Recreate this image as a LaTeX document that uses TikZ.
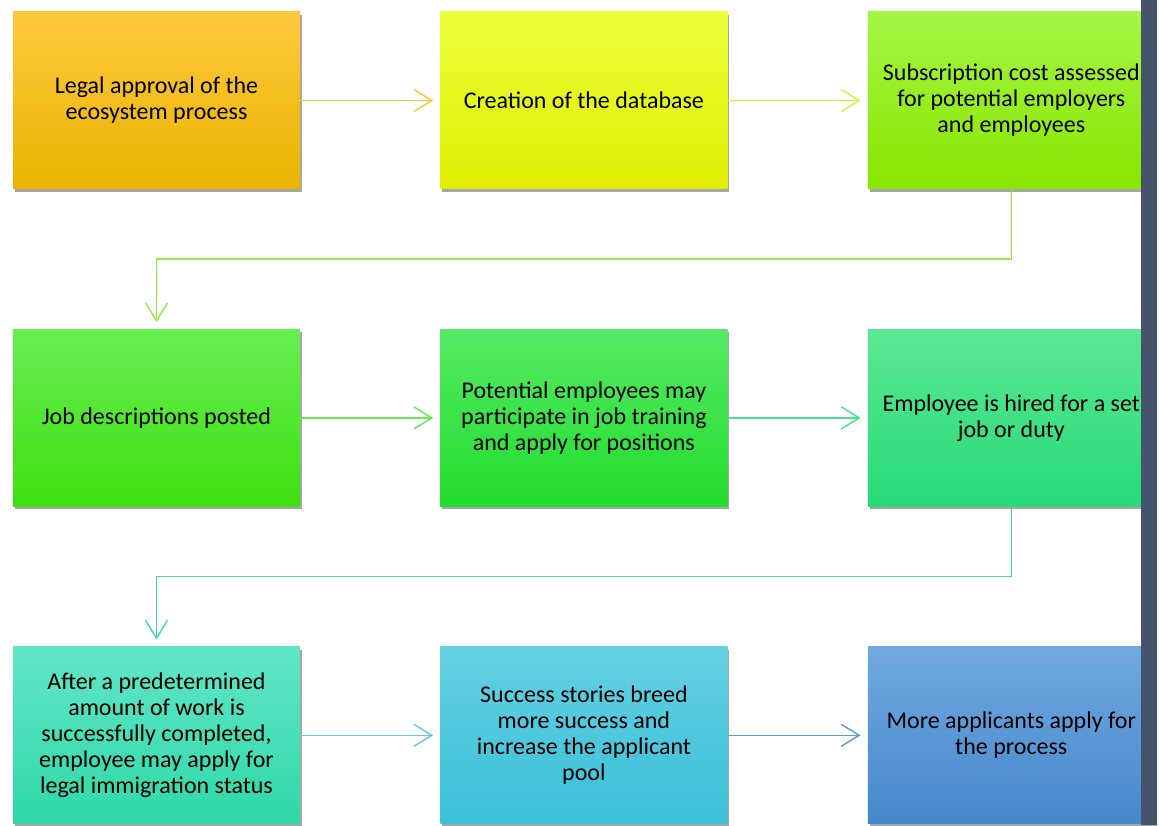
\documentclass[tikz,border=0pt]{standalone}
\usepackage{fontspec}
\setmainfont{Carlito}
\usetikzlibrary{arrows.meta,positioning,shadows}
\definecolor{GoldTop}{HTML}{FFC93E}
\definecolor{GoldBot}{HTML}{E8B400}
\definecolor{LemonTop}{HTML}{ECFF3A}
\definecolor{LemonBot}{HTML}{E0EE00}
\definecolor{LimeTop}{HTML}{A6F545}
\definecolor{LimeBot}{HTML}{88E600}
\definecolor{GrassTop}{HTML}{66EE52}
\definecolor{GrassBot}{HTML}{3EE010}
\definecolor{LeafTop}{HTML}{55EA66}
\definecolor{LeafBot}{HTML}{22DC2C}
\definecolor{MintTop}{HTML}{5CE892}
\definecolor{MintBot}{HTML}{26DA78}
\definecolor{TealTop}{HTML}{62E6C6}
\definecolor{TealBot}{HTML}{2ED8A8}
\definecolor{SkyTop}{HTML}{64D0E2}
\definecolor{SkyBot}{HTML}{3AC0D8}
\definecolor{BlueTop}{HTML}{72A8E0}
\definecolor{BlueBot}{HTML}{4488CC}
\definecolor{SlateBar}{HTML}{44546A}
\definecolor{ArrGold}{HTML}{F8C830}
\definecolor{ArrLemon}{HTML}{D6F03C}
\definecolor{ArrLime}{HTML}{96EC46}
\definecolor{ArrGrass}{HTML}{64EC54}
\definecolor{ArrLeaf}{HTML}{46E28C}
\definecolor{ArrMint}{HTML}{40DCB0}
\definecolor{ArrSky}{HTML}{60D0DE}
\definecolor{ArrBlue}{HTML}{5A9ADC}

\begin{document}
\begin{tikzpicture}[
  x=1pt, y=1pt,
  node distance=140pt and 140pt,
  stepbox/.style={rectangle, minimum width=287pt, minimum height=177pt,
    inner sep=4pt, align=center, text=black,
    font=\fontsize{24}{26}\selectfont,
    drop shadow={shadow xshift=2pt, shadow yshift=-3pt, opacity=0.35, fill=black}},
  link/.style={line width=1.4pt, shorten >=7pt, -{Straight Barb[length=18pt, width=22pt, line width=1.4pt]}}
]

\useasboundingbox (0,0) rectangle (1159,825);

% First row
\node[stepbox, top color=GoldTop, bottom color=GoldBot] (legal) at (156.5,724.5)
  {Legal approval of the\\ecosystem process};
\node[stepbox, top color=LemonTop, bottom color=LemonBot, right=of legal] (base)
  {Creation of the database};
\node[stepbox, top color=LimeTop, bottom color=LimeBot, right=of base] (cost)
  {Subscription cost assessed\\for potential employers\\and employees};

% Second row
\node[stepbox, top color=GrassTop, bottom color=GrassBot, below=of legal] (jobs)
  {Job descriptions posted};
\node[stepbox, top color=LeafTop, bottom color=LeafBot, right=of jobs] (train)
  {Potential employees may\\participate in job training\\and apply for positions};
\node[stepbox, top color=MintTop, bottom color=MintBot, right=of train] (hired)
  {Employee is hired for a set\\job or duty};

% Third row
\node[stepbox, top color=TealTop, bottom color=TealBot, below=of jobs] (status)
  {After a predetermined\\amount of work is\\successfully completed,\\employee may apply for\\legal immigration status};
\node[stepbox, top color=SkyTop, bottom color=SkyBot, right=of status] (stories)
  {Success stories breed\\more success and\\increase the applicant\\pool};
\node[stepbox, top color=BlueTop, bottom color=BlueBot, right=of stories] (more)
  {More applicants apply for\\the process};

% Connectors
\draw[link, ArrGold] (legal) -- (base);
\draw[link, ArrLemon] (base) -- (cost);
\draw[link, ArrLime] (cost.south) -- ++(0,-70) -| (jobs.north);
\draw[link, ArrGrass] (jobs) -- (train);
\draw[link, ArrLeaf] (train) -- (hired);
\draw[link, ArrMint] (hired.south) -- ++(0,-70) -| (status.north);
\draw[link, ArrSky] (status) -- (stories);
\draw[link, ArrBlue] (stories) -- (more);

% Side bar
\fill[SlateBar] (1141,0) rectangle (1157,825);

\end{tikzpicture}
\end{document}
